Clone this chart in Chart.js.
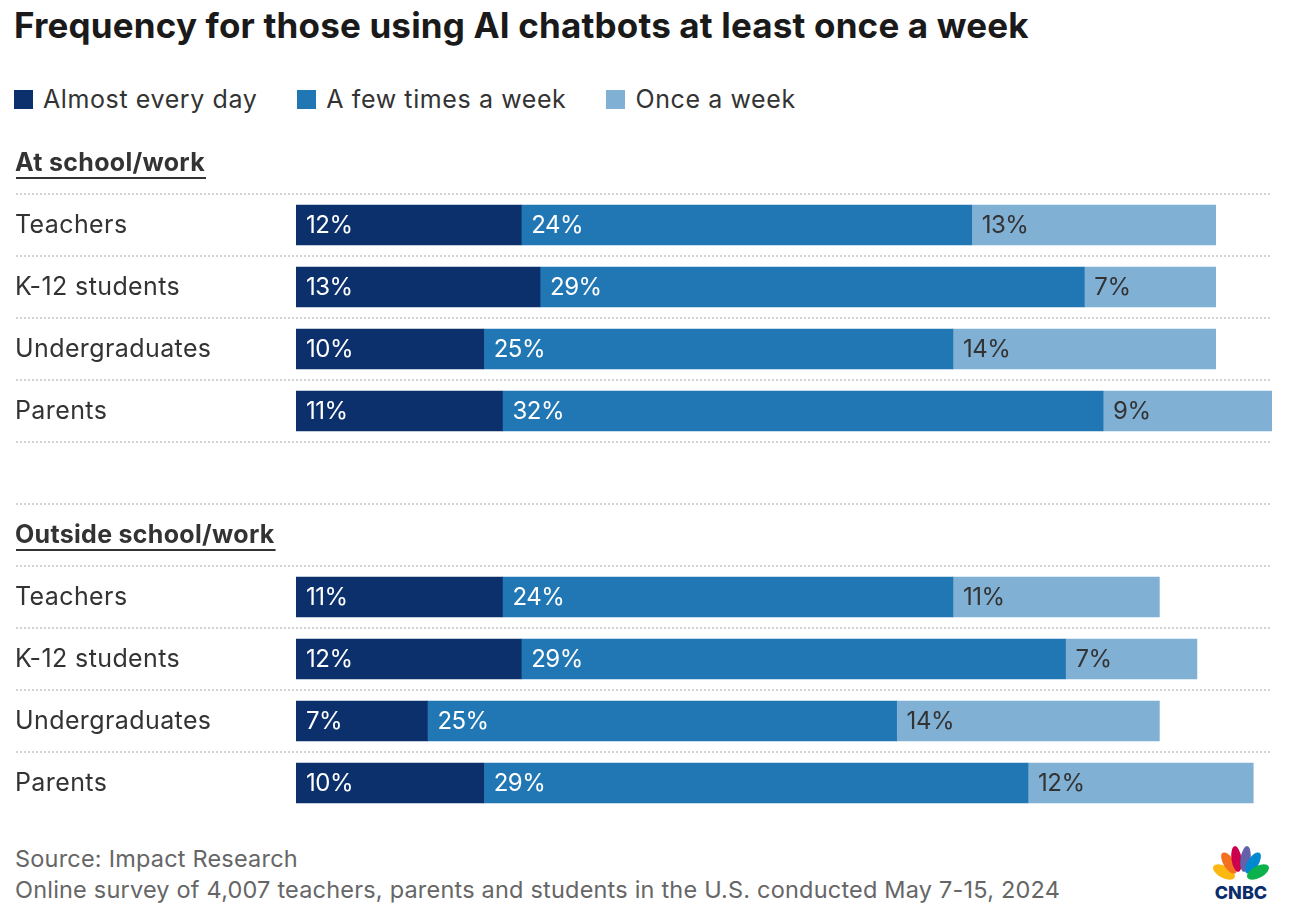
<!DOCTYPE html>
<html>
<head>
<meta charset="utf-8">
<script src="https://cdn.jsdelivr.net/npm/chart.js@4.4.1/dist/chart.umd.min.js"></script>
<style>
  body { margin: 0; background: #fff; font-family: Inter, Lato, sans-serif; color: #333; }
  #wrap { position: relative; width: 1298px; height: 920px; overflow: hidden; }
  h1 { position: absolute; left: 14px; top: 8px; margin: 0; font-size: 35px; line-height: 35px; font-weight: 700; letter-spacing: 0.17px; color: #1a1a1a; white-space: nowrap; }
  #legend { position: absolute; left: 14px; top: 87px; display: flex; font-size: 25px; line-height: 25px; letter-spacing: 0.6px; color: #333; }
  #legend .item { display: flex; align-items: center; margin-right: 40px; }
  #legend .sw { width: 19px; height: 19px; margin-right: 10px; }
  #box { position: absolute; left: 0; top: 0; width: 1298px; height: 830px; }
  .foot { position: absolute; left: 15px; font-size: 23.5px; line-height: 23.5px; letter-spacing: 0.2px; color: #666; white-space: nowrap; }
  #logo { position: absolute; left: 1208px; top: 843px; }
</style>
</head>
<body>
<div id="wrap">
  <h1>Frequency for those using AI chatbots at least once a week</h1>
  <div id="legend"></div>
  <div id="box"><canvas id="c"></canvas></div>
  <div class="foot" style="top:847px">Source: Impact Research</div>
  <div class="foot" style="top:878px">Online survey of 4,007 teachers, parents and students in the U.S. conducted May 7-15, 2024</div>
  <svg id="logo" width="66" height="60" viewBox="0 0 66 60">
    <g transform="translate(33,38)">
      <ellipse cx="-17" cy="-9" rx="6" ry="12" transform="rotate(-62 -17 -9)" fill="#fcb711"/>
      <ellipse cx="-12" cy="-18" rx="5.5" ry="12" transform="rotate(-32 -12 -18)" fill="#f37021"/>
      <ellipse cx="-4.5" cy="-22" rx="5" ry="13" transform="rotate(-8 -4.5 -22)" fill="#cc004c"/>
      <ellipse cx="4.5" cy="-22" rx="5" ry="13" transform="rotate(8 4.5 -22)" fill="#6460aa"/>
      <ellipse cx="12" cy="-18" rx="5.5" ry="12" transform="rotate(32 12 -18)" fill="#0089d0"/>
      <ellipse cx="17" cy="-9" rx="6" ry="12" transform="rotate(62 17 -9)" fill="#0db14b"/>
      <rect x="-32" y="-1" width="64" height="10" fill="#fff"/>
    </g>
    <text x="33" y="56" text-anchor="middle" font-family="Inter" font-weight="800" font-size="18" fill="#0c2d6b">CNBC</text>
  </svg>
</div>
<script>
// filas: cabeceras de sección y fila vacía llevan null
const rowLabels = ['At school/work', 'Teachers', 'K-12 students', 'Undergraduates', 'Parents', '',
                   'Outside school/work', 'Teachers', 'K-12 students', 'Undergraduates', 'Parents'];
const headerRows = [0, 6];
const seriesNames = ['Almost every day', 'A few times a week', 'Once a week'];
const almostEveryDay = [null, 12, 13, 10, 11, null, null, 11, 12, 7, 10];
const fewTimesWeek   = [null, 24, 29, 25, 32, null, null, 24, 29, 25, 29];
const onceWeek       = [null, 13, 7, 14, 9, null, null, 11, 7, 14, 12];
const colors = ['#0b306c', '#2176b4', '#80b0d4'];
const labelColors = ['#fff', '#fff', '#333'];

// leyenda
const legend = document.getElementById('legend');
seriesNames.forEach((n, i) => {
  const d = document.createElement('div');
  d.className = 'item';
  d.innerHTML = `<span class="sw" style="background:${colors[i]}"></span>${n}`;
  legend.appendChild(d);
});

// líneas punteadas, etiquetas de fila y valores
const rowPlugin = {
  id: 'rows',
  beforeDatasetsDraw(chart) {
    const { ctx, scales: { y }, chartArea } = chart;
    ctx.save();
    ctx.strokeStyle = '#d2d2d2';
    ctx.lineWidth = 2;
    ctx.setLineDash([2, 2]);
    for (let i = 0; i < rowLabels.length - 1; i++) {
      const yy = Math.round((y.getPixelForValue(i) + y.getPixelForValue(i + 1)) / 2);
      ctx.beginPath();
      ctx.moveTo(16, yy);
      ctx.lineTo(chartArea.right, yy);
      ctx.stroke();
    }
    ctx.restore();
  },
  afterDatasetsDraw(chart) {
    const { ctx, scales: { y } } = chart;
    ctx.save();
    ctx.textBaseline = 'middle';
    rowLabels.forEach((lab, i) => {
      const yy = y.getPixelForValue(i);
      const isHeader = headerRows.includes(i);
      ctx.fillStyle = '#333';
      ctx.font = (isHeader ? '700 ' : '400 ') + '25px Inter';
      ctx.letterSpacing = isHeader ? '0.3px' : '0.4px';
      ctx.fillText(lab, 15, yy);
      if (isHeader) {
        const w = ctx.measureText(lab).width;
        ctx.fillRect(16, yy + 14, w, 2);
      }
    });
    ctx.font = '400 24px Inter';
    ctx.letterSpacing = '-0.5px';
    chart.data.datasets.forEach((ds, di) => {
      const meta = chart.getDatasetMeta(di);
      meta.data.forEach((bar, i) => {
        if (ds.data[i] == null) return;
        ctx.fillStyle = labelColors[di];
        ctx.fillText(ds.data[i] + '%', bar.base + 10, bar.y + 1);
      });
    });
    ctx.restore();
  }
};

new Chart(document.getElementById('c'), {
  type: 'bar',
  data: {
    labels: rowLabels,
    datasets: [almostEveryDay, fewTimesWeek, onceWeek].map((d, i) => ({
      label: seriesNames[i],
      data: d,
      backgroundColor: colors[i],
      barThickness: 40,
      borderWidth: 0
    }))
  },
  options: {
    indexAxis: 'y',
    responsive: true,
    maintainAspectRatio: false,
    animation: false,
    devicePixelRatio: 1,
    layout: { padding: { top: 132, left: 296, right: 26, bottom: 16 } },
    plugins: { legend: { display: false }, tooltip: { enabled: false } },
    scales: {
      x: { stacked: true, min: 0, max: 52, display: false },
      y: { stacked: true, display: false }
    }
  },
  plugins: [rowPlugin]
});
</script>
</body>
</html>
